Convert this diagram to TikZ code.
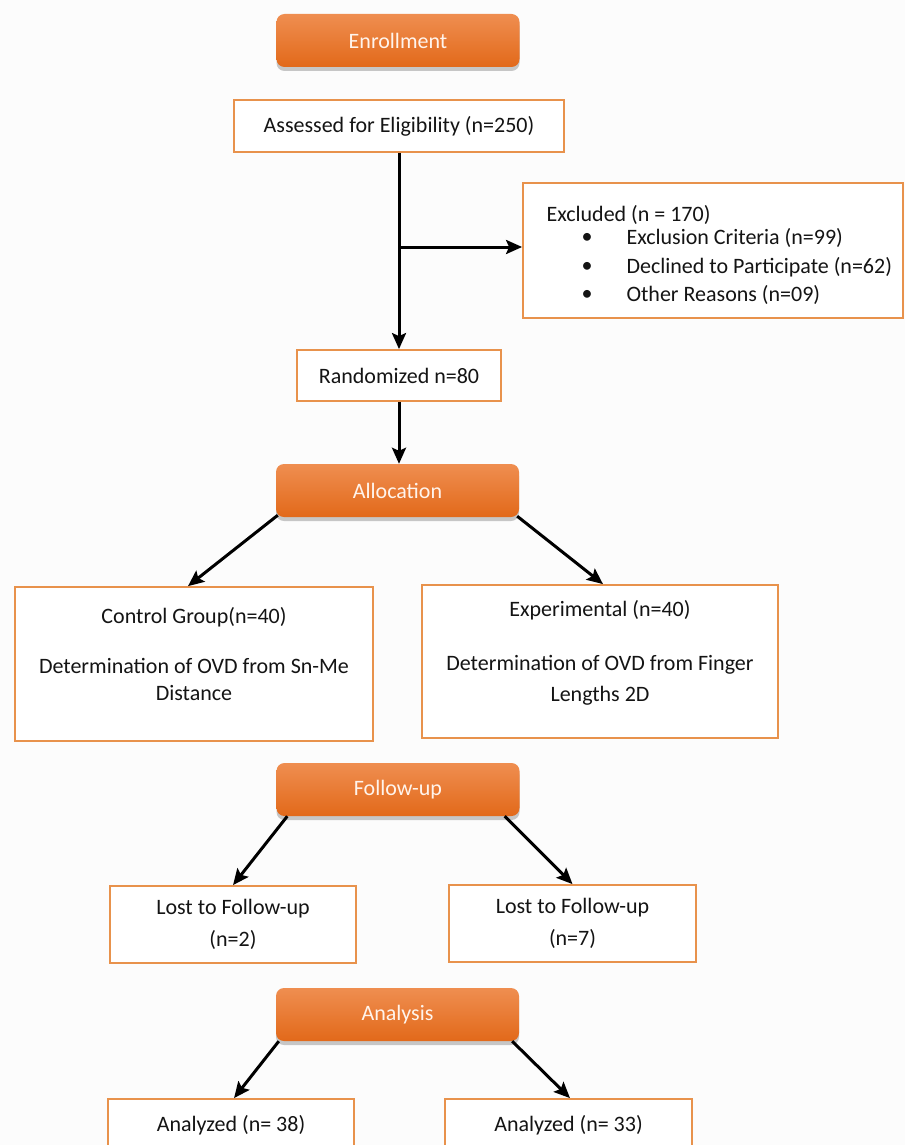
\documentclass[tikz,border=0pt]{standalone}
\usepackage{fontspec}
\setmainfont{Carlito}
\usetikzlibrary{arrows.meta,shadows,calc}
\definecolor{bord}{HTML}{E8924C}
\definecolor{btop}{HTML}{EF8E50}
\definecolor{bbot}{HTML}{E2691A}
\definecolor{txt}{HTML}{141414}
\definecolor{bg}{HTML}{FCFCFC}
\definecolor{btxt}{HTML}{FFF4EC}
\begin{document}
\begin{tikzpicture}[x=1pt,y=-1pt,
 every node/.style={font=\fontsize{22}{27}\selectfont, text=txt},
 stagebtn/.style={rectangle, rounded corners=8pt, top color=btop, bottom color=bbot, draw=none, text=btxt, minimum width=243pt, minimum height=53pt, inner sep=0pt, drop shadow={shadow xshift=0pt, shadow yshift=-4pt, opacity=0.3, fill=black!70}},
 infobox/.style={rectangle, draw=bord, line width=1.8pt, fill=white, inner sep=0pt, align=center},
 arr/.style={line width=3pt, -{Stealth[length=16pt,width=14pt,inset=3pt]}}
]
\clip (0,0) rectangle (905,1145);
\fill[bg] (0,0) rectangle (905,1145);

% stage buttons
\node[stagebtn] (enr) at (398,40.5) {Enrollment};
\node[stagebtn] (alc) at (397.5,490.5) {Allocation};
\node[stagebtn] (fu) at (398,789.5) {Follow-up};
\node[stagebtn] (ana) at (397.5,1014.5) {Analysis};

% boxes
\node[infobox, minimum width=330pt, minimum height=52pt] (ass) at (399,126) {Assessed for Eligibility (n=250)};
\node[infobox, minimum width=380pt, minimum height=135pt] (exc) at (713,250.5) {};
\node[anchor=west] (exct) at (543,215) {Excluded (n = 170)};
\node (b1) at (587,238) {\textbullet};
\node (b2) at (587,267) {\textbullet};
\node (b3) at (587,295) {\textbullet};
\node[anchor=west] (i1) at (623,238) {Exclusion Criteria (n=99)};
\node[anchor=west] (i2) at (623,267) {Declined to Participate (n=62)};
\node[anchor=west] (i3) at (623,295) {Other Reasons (n=09)};

\node[infobox, minimum width=204pt, minimum height=51pt] (rnd) at (399,375.5) {Randomized n=80};

\node[infobox, minimum width=358pt, minimum height=154pt] (ctl) at (194,664) {};
\node[align=center] (ctlt) at (194,654) {Control Group(n=40)\\[23pt]Determination of OVD from Sn-Me\\Distance};
\node[infobox, minimum width=356pt, minimum height=153pt] (exp) at (600,661.5) {};
\node[align=center] (expt) at (600,653) {Experimental (n=40)\\[27pt]Determination of OVD from Finger\\[4pt]Lengths 2D};

\node[infobox, minimum width=246pt, minimum height=77pt] (l1) at (233,924.5) {Lost to Follow-up\\[5pt](n=2)};
\node[infobox, minimum width=247pt, minimum height=77pt] (l2) at (572.5,923.5) {Lost to Follow-up\\[5pt](n=7)};

\node[infobox, minimum width=246pt, minimum height=52pt] (an1) at (231,1125) {Analyzed (n= 38)};
\node[infobox, minimum width=247pt, minimum height=52pt] (an2) at (568.5,1125) {Analyzed (n= 33)};

% connectors
\coordinate (br) at (ass.south |- 0,247);
\draw[arr] (ass.south) -- (rnd.north);
\draw[arr] (br) -- (br -| exc.west);
\draw[arr] (rnd.south) -- (rnd.south |- alc.north);

\draw[arr] ($(alc.south west)+(2,-2)$) -- ($(ctl.north)+(-6,0)$);
\draw[arr] ($(alc.south east)+(-2,-1)$) -- ($(exp.north)+(3,0)$);

\draw[arr] ($(fu.south west)+(11,0)$) -- (l1.north);
\draw[arr] ($(fu.south east)+(-15,0)$) -- (l2.north);

\draw[arr] ($(ana.south west)+(3,0)$) -- ($(an1.north)+(3,0)$);
\draw[arr] ($(ana.south east)+(-7,0)$) -- ($(an2.north)+(1.5,0)$);
\end{tikzpicture}
\end{document}
